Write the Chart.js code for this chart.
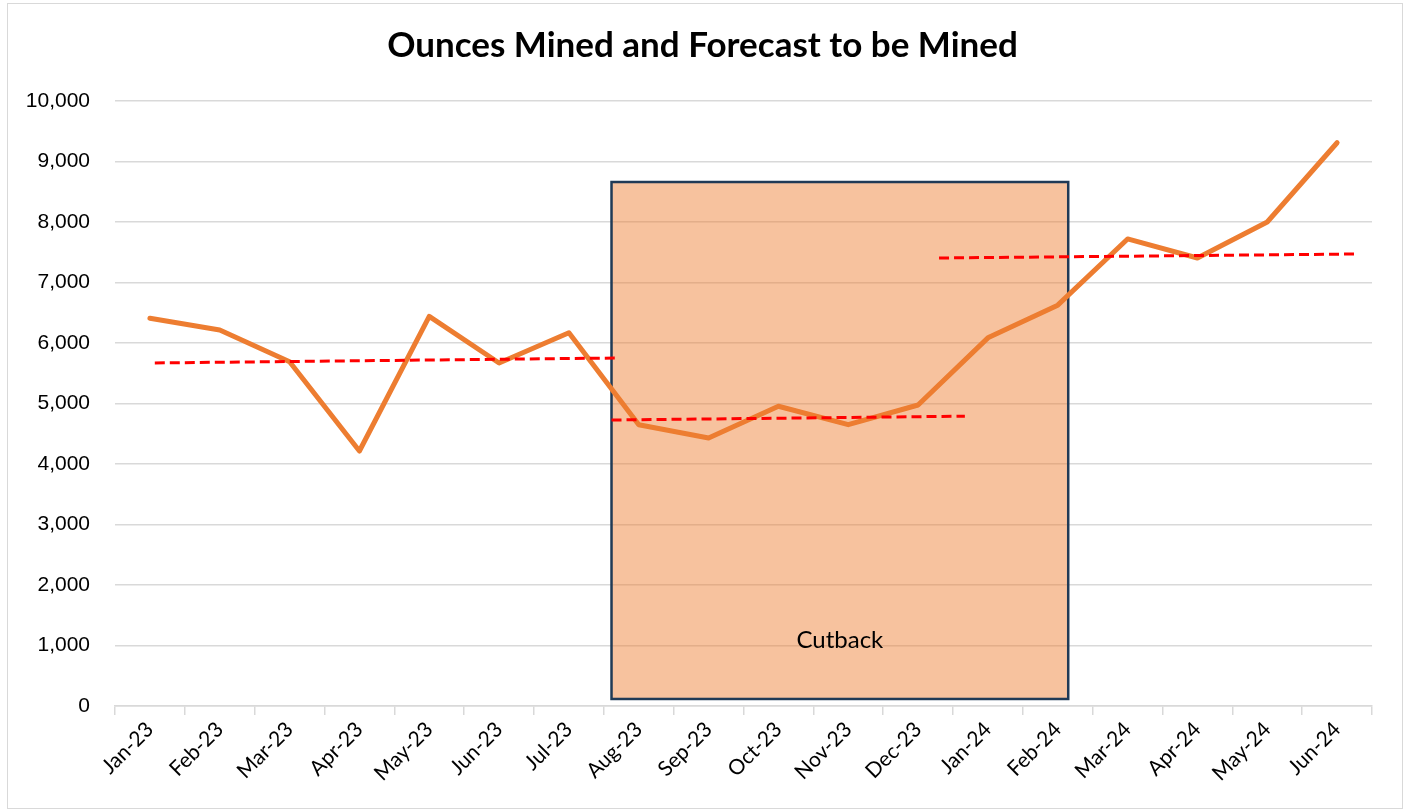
<!DOCTYPE html>
<html>
<head>
<meta charset="utf-8">
<script src="https://cdn.jsdelivr.net/npm/chart.js@4/dist/chart.umd.min.js"></script>
<style>
  html, body { margin: 0; padding: 0; background: #ffffff; }
  #wrap { position: relative; width: 1405px; height: 809px; }
  #frame { position: absolute; left: 7px; top: 3px; width: 1396px; height: 806px; border: 1px solid #d9d9d9; box-sizing: border-box; pointer-events: none; }
  canvas { position: absolute; left: 0; top: 0; }
</style>
</head>
<body>
<div id="wrap">
  <canvas id="c" width="1405" height="809"></canvas>
  <div id="frame"></div>
</div>
<script>
// ---- data ----
const categories = ['Jan-23','Feb-23','Mar-23','Apr-23','May-23','Jun-23','Jul-23','Aug-23','Sep-23','Oct-23','Nov-23','Dec-23','Jan-24','Feb-24','Mar-24','Apr-24','May-24','Jun-24'];
const ouncesMined = [6410, 6215, 5690, 4215, 6440, 5670, 6170, 4650, 4430, 4955, 4650, 4975, 6085, 6625, 7720, 7405, 8000, 9310];
// trend lines: [x (category index), y] endpoints
const trendPre = [[0.07, 5670], [6.68, 5752]];
const trendCut = [[6.61, 4727], [11.67, 4790]];
const trendPost = [[11.30, 7405], [17.27, 7471]];
// cutback region in data units
const cutbackX = [6.61, 13.15];
const cutbackY = [116, 8661];
const cutbackLabel = 'Cutback';
const cutbackLabelY = 1091;
const yTicks = [0,1000,2000,3000,4000,5000,6000,7000,8000,9000,10000];
const chartTitle = 'Ounces Mined and Forecast to be Mined';

const toPts = arr => arr.map(p => ({x: p[0], y: p[1]}));

const cutbackPlugin = {
  id: 'cutback',
  beforeDatasetsDraw(chart) {
    const ctx = chart.ctx;
    const xs = chart.scales.x2, ys = chart.scales.y;
    const x0 = xs.getPixelForValue(cutbackX[0]);
    const x1 = xs.getPixelForValue(cutbackX[1]);
    const y0 = ys.getPixelForValue(cutbackY[1]);
    const y1 = ys.getPixelForValue(cutbackY[0]);
    ctx.save();
    ctx.fillStyle = 'rgba(237,125,49,0.47)';
    ctx.fillRect(x0, y0, x1 - x0, y1 - y0);
    ctx.strokeStyle = '#203a56';
    ctx.lineWidth = 2.5;
    ctx.strokeRect(x0, y0, x1 - x0, y1 - y0);
    ctx.fillStyle = '#000000';
    ctx.font = '24px Lato, "Open Sans", sans-serif';
    ctx.textAlign = 'center';
    ctx.textBaseline = 'middle';
    ctx.fillText(cutbackLabel, (x0 + x1) / 2, ys.getPixelForValue(cutbackLabelY));
    ctx.restore();
  }
};

new Chart(document.getElementById('c'), {
  type: 'line',
  data: {
    labels: categories,
    datasets: [
      { label: 'Trend pre', data: toPts(trendPre), xAxisID: 'x2', borderColor: '#ff0000', borderWidth: 3, borderDash: [10, 5], pointRadius: 0, fill: false, order: 0 },
      { label: 'Trend cut', data: toPts(trendCut), xAxisID: 'x2', borderColor: '#ff0000', borderWidth: 3, borderDash: [10, 5], pointRadius: 0, fill: false, order: 0 },
      { label: 'Trend post', data: toPts(trendPost), xAxisID: 'x2', borderColor: '#ff0000', borderWidth: 3, borderDash: [10, 5], pointRadius: 0, fill: false, order: 0 },
      { label: 'Ounces Mined', data: ouncesMined, xAxisID: 'x', borderColor: '#ed7d31', borderWidth: 5, pointRadius: 0, tension: 0, fill: false, borderCapStyle: 'round', borderJoinStyle: 'round', order: 1 }
    ]
  },
  options: {
    responsive: false,
    animation: false,
    layout: { padding: { left: 0, right: 0, top: 0, bottom: 0 } },
    plugins: {
      legend: { display: false },
      tooltip: { enabled: false },
      title: {
        display: true,
        text: chartTitle,
        color: '#000000',
        font: { family: 'Lato, "Open Sans", sans-serif', size: 35, weight: 'bold', lineHeight: 1.2 },
        padding: { top: 25, bottom: 34 }
      }
    },
    scales: {
      x: {
        type: 'category',
        offset: true,
        grid: { display: true, offset: true, drawOnChartArea: false, drawTicks: true, tickLength: 9, color: '#d9d9d9', lineWidth: 1.5 },
        border: { display: true, color: '#d9d9d9', width: 1.5 },
        ticks: { color: '#000000', font: { family: 'Lato, "Open Sans", sans-serif', size: 21 }, minRotation: 45, maxRotation: 45, autoSkip: false, padding: 2 },
        afterFit(scale) { scale.height = 103; }
      },
      x2: {
        type: 'linear',
        display: false,
        min: -0.5,
        max: 17.5
      },
      y: {
        type: 'linear',
        min: 0,
        max: 10000,
        afterBuildTicks(scale) { scale.ticks = yTicks.map(v => ({value: v})); },
        grid: { color: '#d9d9d9', lineWidth: 1.5, drawTicks: false },
        border: { display: false },
        ticks: {
          color: '#000000',
          font: { family: '"Liberation Sans", Arial, sans-serif', size: 21 },
          padding: 25,
          callback: v => v.toLocaleString('en-US')
        },
        afterFit(scale) { scale.width = 115; }
      },
      yRight: {
        type: 'linear',
        position: 'right',
        display: true,
        min: 0,
        max: 10000,
        grid: { display: false, drawTicks: false },
        border: { display: false },
        ticks: { display: false },
        afterFit(scale) { scale.width = 33; }
      }
    }
  },
  plugins: [cutbackPlugin]
});
</script>
</body>
</html>
